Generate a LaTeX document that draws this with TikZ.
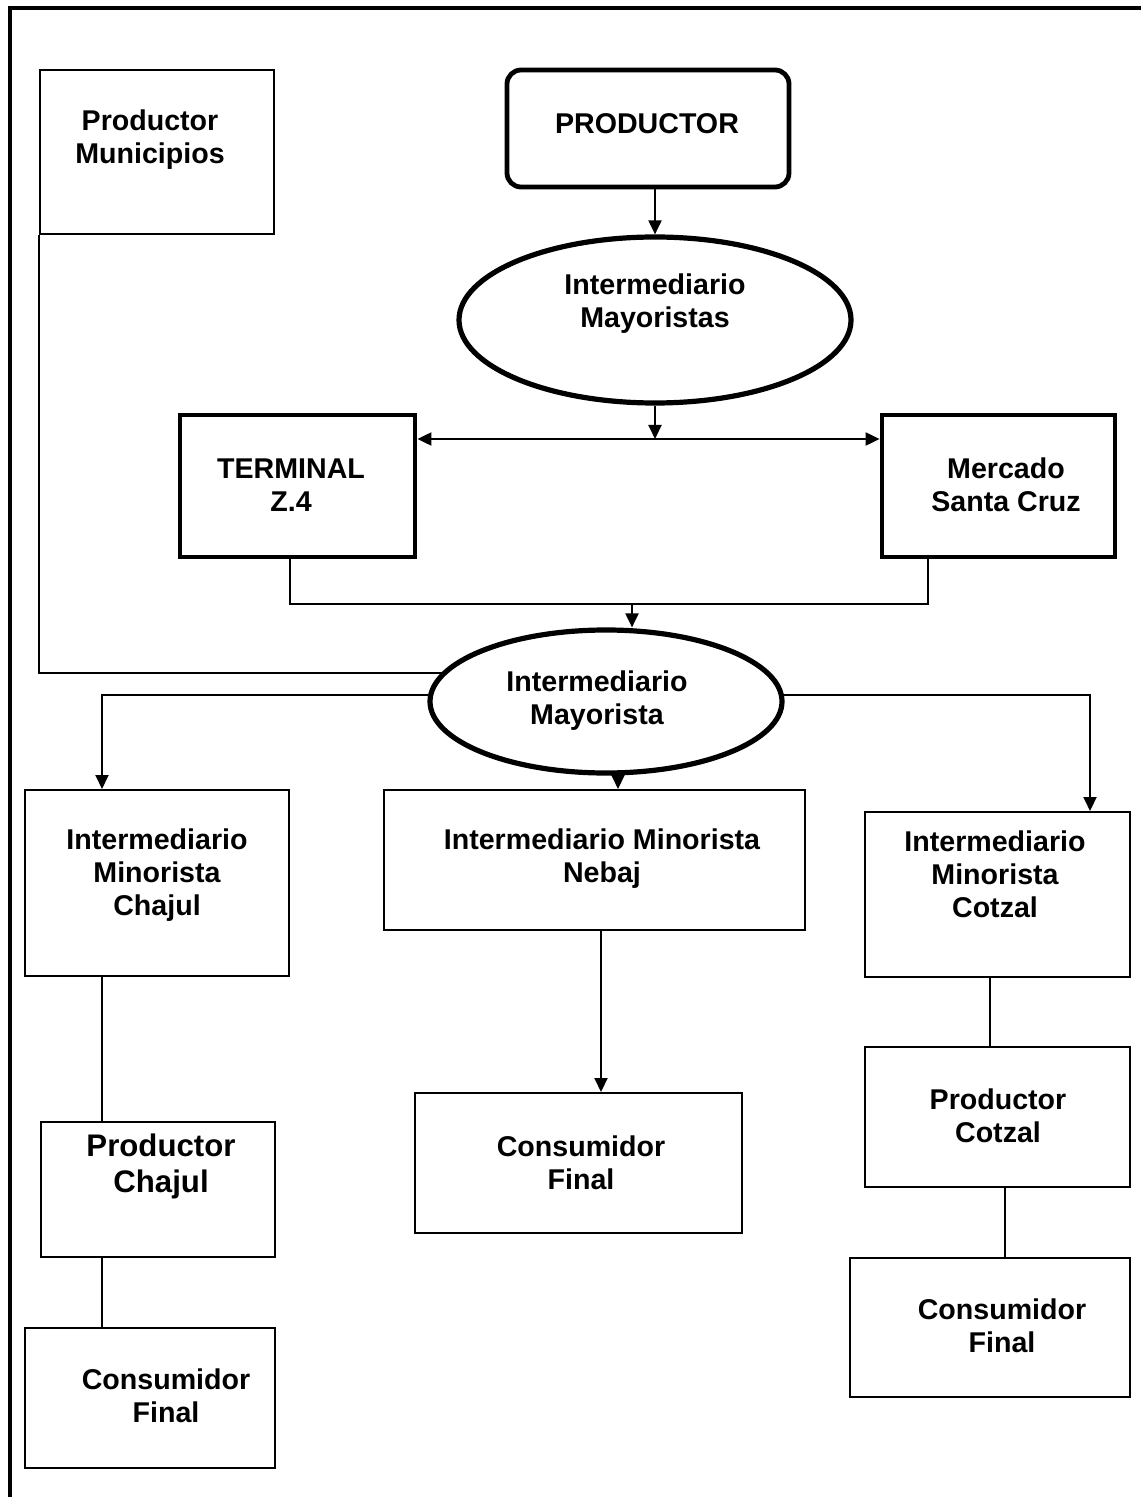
\documentclass[tikz,border=0pt]{standalone}
\usepackage{fontspec}
\setmainfont{Liberation Sans}
\usepackage{tikz}
\usetikzlibrary{arrows.meta,calc,shapes.geometric}

\tikzset{
	box/.style 2 args={draw, line width=1pt, inner sep=0pt, minimum width=#1*0.5pt, minimum height=#2*0.5pt},
	bigbox/.style 2 args={box={#1}{#2}, line width=2.4pt},
	oval/.style 2 args={ellipse, box={#1}{#2}, line width=2.6pt},
	lbl/.style={font=\bfseries\fontsize{14.3}{16.5}\selectfont, align=center, inner sep=0pt, yshift=-1.5pt},
}

\begin{document}
\begin{tikzpicture}[x=0.5pt, y=-0.5pt, line width=1pt, >={Triangle[length=7pt,width=6.5pt]}]
		\useasboundingbox (0,0) rectangle (1141,1497);
		% frame
		\draw [line width=2.4pt] (10,1497) -- (10,8) -- (1141,8);
		
		% top part
		\node [box={234}{164}] (pm) at (157,152) {};
		\node [lbl] (pmT) at (150,137) {Productor\\Municipios};
		\node [bigbox={282}{117}, rounded corners=7pt] (prod) at (648,128.5) {};
		\node [lbl] (prodT) at (647,121) {PRODUCTOR};
		\node [oval={392}{166}] (may1) at (655,320) {};
		\node [lbl] (may1T) at (655,301) {Intermediario\\Mayoristas};
		\node [bigbox={235}{142}] (term) at (297.5,486) {};
		\node [lbl] (termT) at (291,482) {TERMINAL\\Z.4};
		\node [bigbox={233}{142}] (merc) at (998.5,486) {};
		\node [lbl] (mercT) at (1006,482) {Mercado\\Santa Cruz};
		\node [oval={352}{143}] (may2) at (606,701.5) {};
		\node [lbl] (may2T) at (597,698) {Intermediario\\Mayorista};
		
		% bottom part
		\node [box={264}{186}] (chaj) at (157,883) {};
		\node [lbl] (chajT) at (157,872) {Intermediario\\Minorista\\Chajul};
		\node [box={421}{140}] (neb) at (594.5,860) {};
		\node [lbl] (nebT) at (602,856) {Intermediario Minorista\\Nebaj};
		\node [box={265}{165}] (cotz) at (997.5,894.5) {};
		\node [lbl] (cotzT) at (995,871) {Intermediario\\Minorista\\Cotzal};
		\node [box={234}{135}] (pchaj) at (158,1189.5) {};
		\node [lbl, font=\bfseries\fontsize{15.6}{18}\selectfont] (pchajT) at (161,1163) {Productor\\Chajul};
		\node [box={327}{140}] (cons2) at (578.5,1163) {};
		\node [lbl] (cons2T) at (581,1160) {Consumidor\\Final};
		\node [box={265}{140}] (pcotz) at (997.5,1117) {};
		\node [lbl] (pcotzT) at (998,1113) {Productor\\Cotzal};
		\node [box={250}{140}] (cons1) at (150,1398) {};
		\node [lbl] (cons1T) at (166,1393) {Consumidor\\Final};
		\node [box={280}{139}] (cons3) at (990,1327.5) {};
		\node [lbl] (cons3T) at (1002,1323) {Consumidor\\Final};
		
		% connectors
		\coordinate (split) at (660,439);
		\coordinate (tl) at (290,604);
		\coordinate (tr) at (928,604);
		\coordinate (join) at (632,604);
		\coordinate (colA) at (102,0);
		\coordinate (colB) at (601,0);
		\coordinate (colC) at (990,0);
		\coordinate (colD) at (1005,0);
		\coordinate (colE) at (1090,0);
		\coordinate (colM) at (618,0);
		
		\draw [->] (prod.south -| may1.north) -- (may1.north);
		\draw [->] (may1.south) -- (may1.south |- split);
		\draw [<->] (term.east |- split) -- (merc.west |- split);
		\draw (term.south -| tl) -- (tl) -- (tr) -- (merc.south -| tr);
		\draw [->] (join) -- (may2.north -| join);
		\draw (pm.south west) |- (may2.170);
		\draw [->] (may2.178) -| (chaj.north -| colA);
		\draw [->] (may2.2) -| (cotz.north -| colE);
		\draw [->] (may2.south -| colM) -- (neb.north -| colM);
		\draw (chaj.south -| colA) -- (pchaj.north -| colA);
		\draw (pchaj.south -| colA) -- (cons1.north -| colA);
		\draw [->] (neb.south -| colB) -- (cons2.north -| colB);
		\draw (cotz.south -| colC) -- (pcotz.north -| colC);
		\draw (pcotz.south -| colD) -- (cons3.north -| colD);
	\end{tikzpicture}
\end{document}
